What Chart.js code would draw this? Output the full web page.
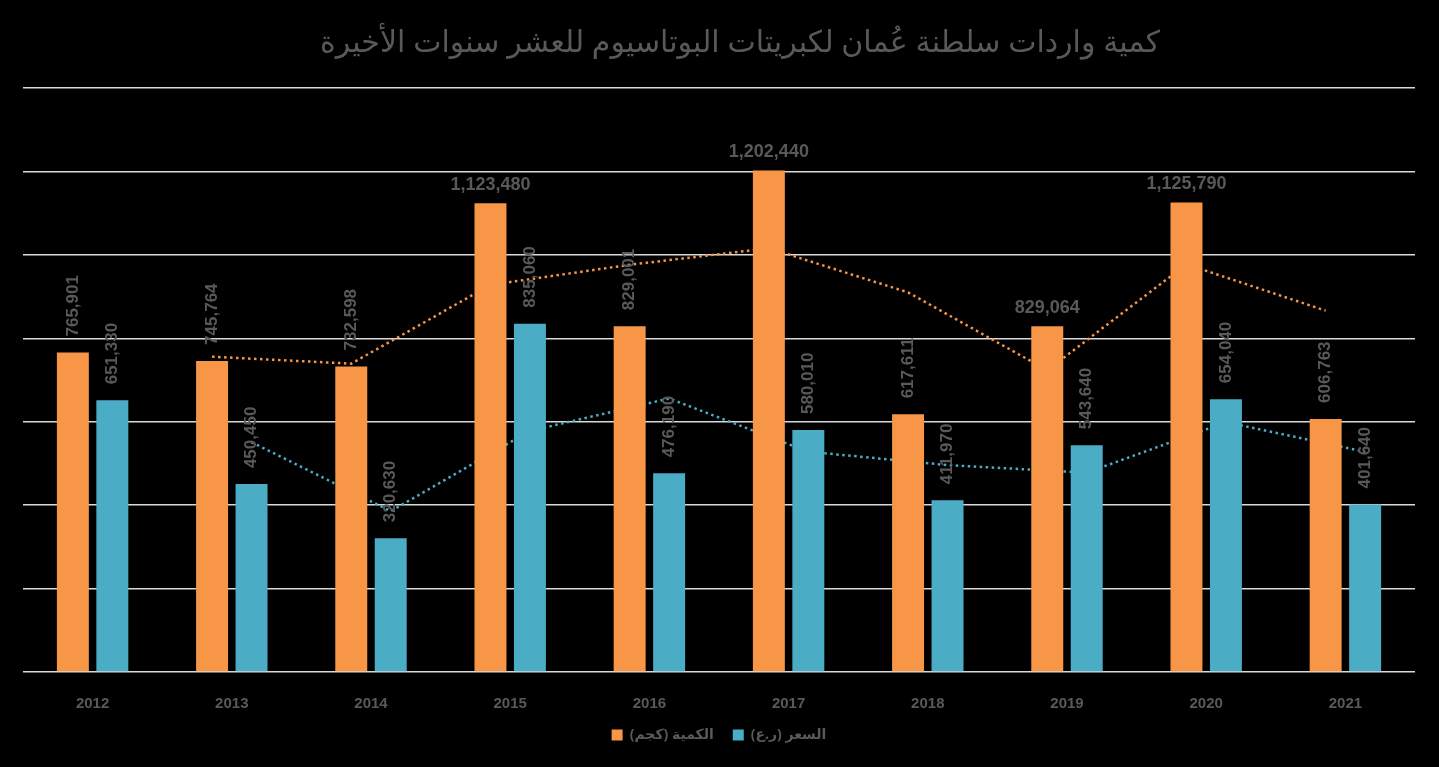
<!DOCTYPE html>
<html lang="ar">
<head>
<meta charset="utf-8">
<title>كمية واردات سلطنة عُمان لكبريتات البوتاسيوم</title>
<script src="https://cdn.jsdelivr.net/npm/chart.js@4.4.1/dist/chart.umd.min.js"></script>
<style>
    html, body { margin: 0; padding: 0; background: #000; }
    #wrap { width: 1439px; height: 767px; }
</style>
</head>
<body>
<div id="wrap"><canvas id="chart" width="1439" height="767"></canvas></div>
<script>
const years = ['2012', '2013', '2014', '2015', '2016', '2017', '2018', '2019', '2020', '2021'];
const quantity = [765901, 745764, 732598, 1123480, 829001, 1202440, 617611, 829064, 1125790, 606763];
const price = [651330, 450450, 320630, 835060, 476190, 580010, 411970, 543640, 654040, 401640];
// dotted trend lines (2 period moving average)
const quantityTrend = [null, 755833, 739181, 928039, 976241, 1015721, 910026, 723338, 977427, 866277];
const priceTrend = [null, 550890, 385540, 577845, 655625, 528100, 495990, 477805, 598840, 527840];
const yMax = 1400000;
const yStep = 200000;

const ORANGE = '#F79646';
const BLUE = '#4BACC6';
const GREY = '#595959';

// put each trend point above its own bar instead of the category centre
const trendToBars = {
    id: 'trendToBars',
    afterLayout(chart) {
        // title sits a little right of centre in the original
        chart.titleBlock.left += 21;
        chart.titleBlock.right += 21;
    },
    afterDatasetsUpdate(chart) {
        chart.data.datasets.forEach((ds, i) => {
            if (ds.type !== 'line') return;
            const bars = chart.getDatasetMeta(ds.barIndex).data;
            chart.getDatasetMeta(i).data.forEach((pt, j) => {
                pt.x = bars[j].x;
            });
        });
    }
};

// value labels: mostly rotated, a few flat ones on the tall orange bars
const barLabels = {
    id: 'barLabels',
    afterDatasetsDraw(chart) {
        const flat = {0: [3, 5, 7, 8]};
        const ctx = chart.ctx;
        ctx.save();
        ctx.fillStyle = GREY;
        chart.data.datasets.forEach((ds, i) => {
            if (ds.type === 'line') return;
            chart.getDatasetMeta(i).data.forEach((bar, j) => {
                const text = ds.data[j].toLocaleString('en-US');
                if (flat[i] && flat[i].includes(j)) {
                    ctx.font = 'bold 18px "Liberation Sans", Arial, sans-serif';
                    ctx.textAlign = 'center';
                    ctx.textBaseline = 'alphabetic';
                    ctx.fillText(text, bar.x, bar.y - 13);
                } else {
                    ctx.font = 'bold 17px "Liberation Sans", Arial, sans-serif';
                    ctx.save();
                    ctx.translate(bar.x, bar.y - 16);
                    ctx.rotate(-Math.PI / 2);
                    ctx.textAlign = 'left';
                    ctx.textBaseline = 'middle';
                    ctx.fillText(text, 0, 0);
                    ctx.restore();
                }
            });
        });
        ctx.restore();
    }
};

const data = {
    labels: years,
    datasets: [{
            label: 'الكمية (كجم)',
            data: quantity,
            backgroundColor: ORANGE,
            order: 0,
            categoryPercentage: 0.567,
            barPercentage: 0.81
        }, {
            label: 'السعر (ر.ع)',
            data: price,
            backgroundColor: BLUE,
            order: 0,
            categoryPercentage: 0.567,
            barPercentage: 0.81
        }, {
            type: 'line',
            label: 'trend quantity',
            data: quantityTrend,
            barIndex: 0,
            borderColor: ORANGE,
            borderWidth: 2.5,
            borderDash: [2.5, 3.5],
            pointRadius: 0,
            tension: 0,
            order: 1
        }, {
            type: 'line',
            label: 'trend price',
            data: priceTrend,
            barIndex: 1,
            borderColor: BLUE,
            borderWidth: 2.5,
            borderDash: [2.5, 3.5],
            pointRadius: 0,
            tension: 0,
            order: 1
        }]
};

const config = {
    type: 'bar',
    data: data,
    options: {
        responsive: false,
        animation: false,
        layout: {
            padding: {left: 23, right: 24, top: 0, bottom: 15}
        },
        scales: {
            x: {
                grid: {display: false},
                border: {display: false},
                ticks: {
                    color: GREY,
                    padding: 15,
                    font: {family: '"Liberation Sans", Arial, sans-serif', size: 15, weight: 'bold'}
                },
                afterFit(scale) {
                    scale.height = 37;
                }
            },
            y: {
                min: 0,
                max: yMax,
                ticks: {display: false, stepSize: yStep},
                border: {display: false},
                grid: {color: '#D9D9D9', lineWidth: 1.5, drawTicks: false}
            }
        },
        plugins: {
            title: {
                display: true,
                text: 'كمية واردات سلطنة عُمان لكبريتات البوتاسيوم للعشر سنوات الأخيرة',
                color: GREY,
                font: {family: '"Noto Sans", "DejaVu Sans", sans-serif', size: 30, weight: 'normal'},
                padding: {top: 25, bottom: 27}
            },
            legend: {
                position: 'bottom',
                textDirection: 'rtl',
                labels: {
                    color: GREY,
                    boxWidth: 11,
                    boxHeight: 11,
                    padding: 19,
                    font: {family: '"Noto Sans", "DejaVu Sans", sans-serif', size: 14, weight: 'bold'},
                    filter: (item) => item.datasetIndex < 2
                }
            },
            tooltip: {enabled: false}
        }
    },
    plugins: [trendToBars, barLabels]
};

let ctx = document.getElementById('chart').getContext('2d');
new Chart(ctx, config);
</script>
</body>
</html>
